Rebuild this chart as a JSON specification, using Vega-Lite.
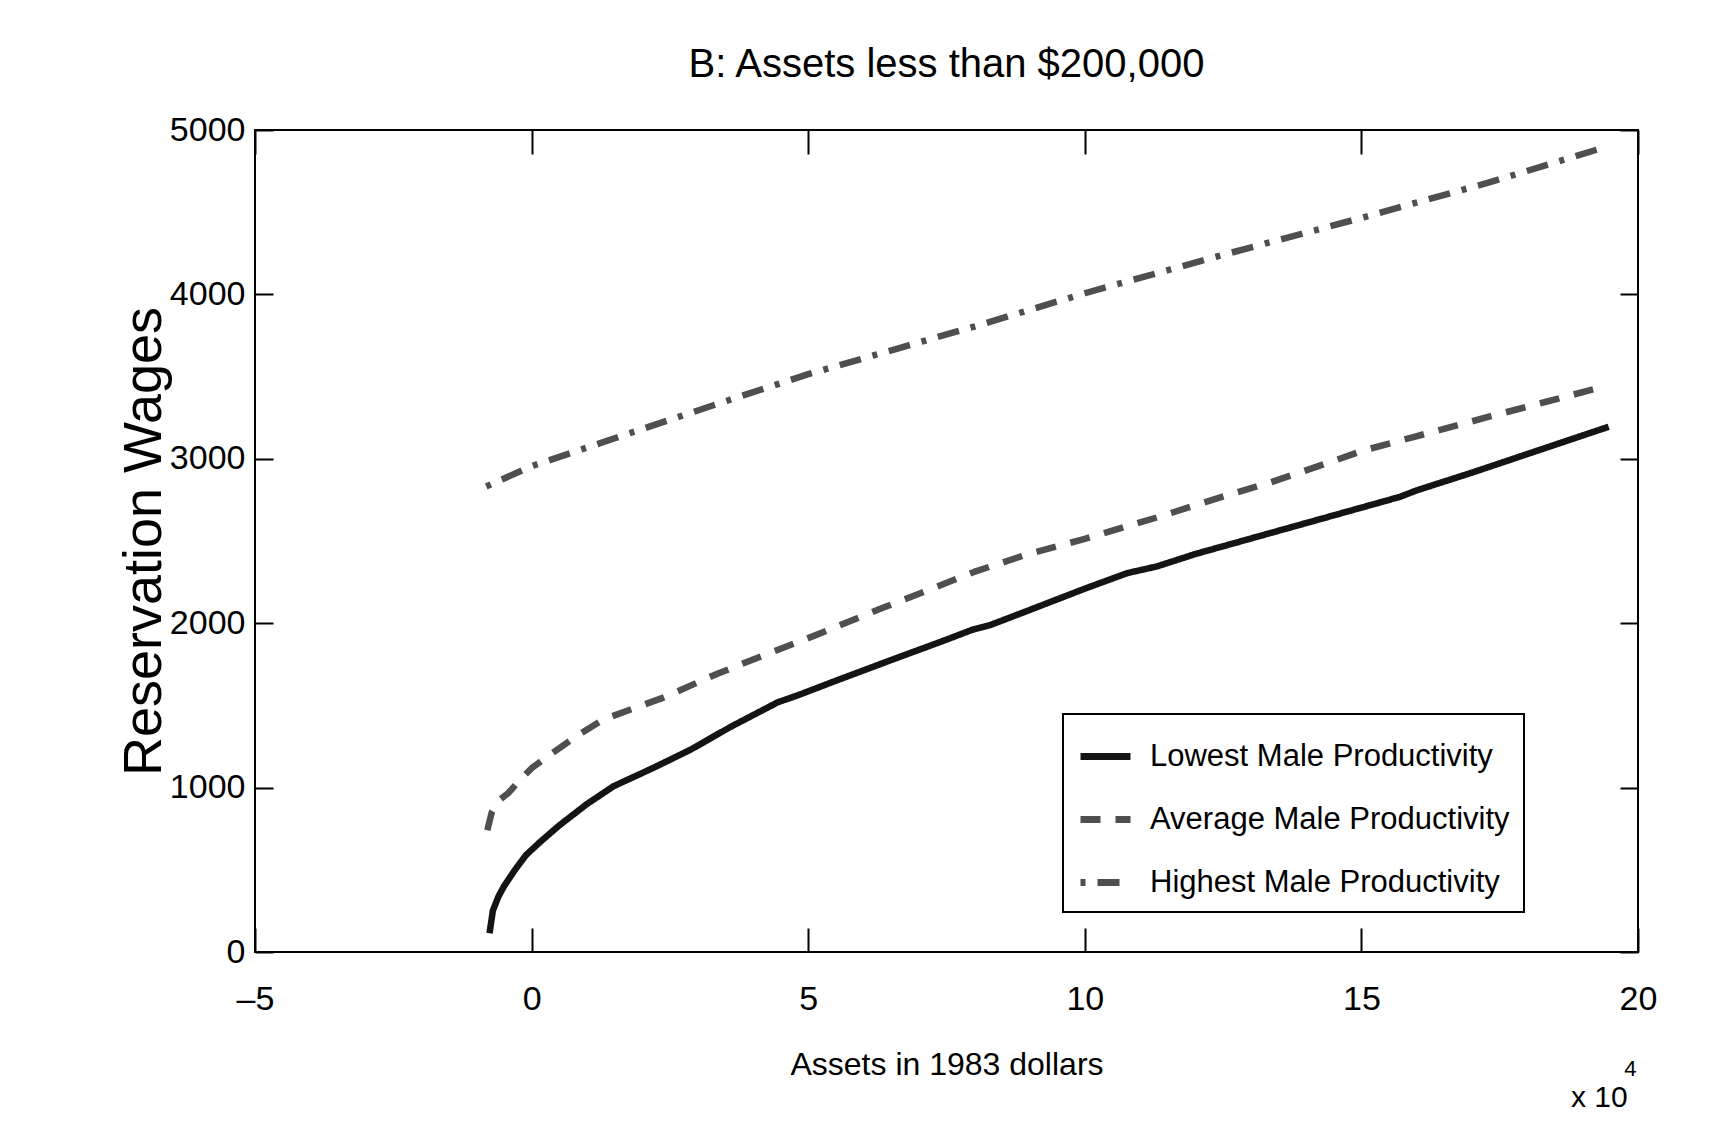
{
  "$schema": "https://vega.github.io/schema/vega-lite/v6.json",
  "width": 1383,
  "height": 822,
  "autosize": "none",
  "padding": {"left": 255, "top": 130, "right": 93, "bottom": 184},
  "background": "white",
  "config": {
    "view": {"stroke": "black", "strokeWidth": 2},
    "font": "Liberation Sans, Arial, sans-serif",
    "legend": {"strokeWidth": 2}
  },
  "title": {
    "text": "B: Assets less than $200,000",
    "fontSize": 40,
    "fontWeight": "normal",
    "font": "Liberation Sans, Arial, sans-serif",
    "color": "black",
    "anchor": "middle",
    "offset": 28
  },
  "datasets": {
    "curves": [
      {"assets": -7600, "wage": 114, "series": "Lowest Male Productivity"},
      {"assets": -7000, "wage": 252, "series": "Lowest Male Productivity"},
      {"assets": -6000, "wage": 337, "series": "Lowest Male Productivity"},
      {"assets": -5000, "wage": 399, "series": "Lowest Male Productivity"},
      {"assets": -4200, "wage": 440, "series": "Lowest Male Productivity"},
      {"assets": -3000, "wage": 500, "series": "Lowest Male Productivity"},
      {"assets": -1000, "wage": 590, "series": "Lowest Male Productivity"},
      {"assets": 1500, "wage": 668, "series": "Lowest Male Productivity"},
      {"assets": 5000, "wage": 770, "series": "Lowest Male Productivity"},
      {"assets": 10000, "wage": 900, "series": "Lowest Male Productivity"},
      {"assets": 14800, "wage": 1008, "series": "Lowest Male Productivity"},
      {"assets": 22000, "wage": 1120, "series": "Lowest Male Productivity"},
      {"assets": 28700, "wage": 1230, "series": "Lowest Male Productivity"},
      {"assets": 36000, "wage": 1370, "series": "Lowest Male Productivity"},
      {"assets": 44500, "wage": 1519, "series": "Lowest Male Productivity"},
      {"assets": 48000, "wage": 1560, "series": "Lowest Male Productivity"},
      {"assets": 55000, "wage": 1650, "series": "Lowest Male Productivity"},
      {"assets": 65000, "wage": 1776, "series": "Lowest Male Productivity"},
      {"assets": 75000, "wage": 1900, "series": "Lowest Male Productivity"},
      {"assets": 79500, "wage": 1958, "series": "Lowest Male Productivity"},
      {"assets": 83000, "wage": 1990, "series": "Lowest Male Productivity"},
      {"assets": 90000, "wage": 2080, "series": "Lowest Male Productivity"},
      {"assets": 100000, "wage": 2210, "series": "Lowest Male Productivity"},
      {"assets": 107700, "wage": 2305, "series": "Lowest Male Productivity"},
      {"assets": 113000, "wage": 2345, "series": "Lowest Male Productivity"},
      {"assets": 120000, "wage": 2421, "series": "Lowest Male Productivity"},
      {"assets": 130000, "wage": 2515, "series": "Lowest Male Productivity"},
      {"assets": 140000, "wage": 2609, "series": "Lowest Male Productivity"},
      {"assets": 150000, "wage": 2703, "series": "Lowest Male Productivity"},
      {"assets": 155000, "wage": 2750, "series": "Lowest Male Productivity"},
      {"assets": 157000, "wage": 2769, "series": "Lowest Male Productivity"},
      {"assets": 160000, "wage": 2808, "series": "Lowest Male Productivity"},
      {"assets": 170000, "wage": 2916, "series": "Lowest Male Productivity"},
      {"assets": 180000, "wage": 3029, "series": "Lowest Male Productivity"},
      {"assets": 194700, "wage": 3195, "series": "Lowest Male Productivity"},

      {"assets": -8000, "wage": 740, "series": "Average Male Productivity"},
      {"assets": -7200, "wage": 850, "series": "Average Male Productivity"},
      {"assets": -6000, "wage": 920, "series": "Average Male Productivity"},
      {"assets": -4200, "wage": 967, "series": "Average Male Productivity"},
      {"assets": -2000, "wage": 1050, "series": "Average Male Productivity"},
      {"assets": 0, "wage": 1118, "series": "Average Male Productivity"},
      {"assets": 4000, "wage": 1216, "series": "Average Male Productivity"},
      {"assets": 8000, "wage": 1310, "series": "Average Male Productivity"},
      {"assets": 13000, "wage": 1415, "series": "Average Male Productivity"},
      {"assets": 23700, "wage": 1546, "series": "Average Male Productivity"},
      {"assets": 33700, "wage": 1694, "series": "Average Male Productivity"},
      {"assets": 43700, "wage": 1828, "series": "Average Male Productivity"},
      {"assets": 50000, "wage": 1909, "series": "Average Male Productivity"},
      {"assets": 63600, "wage": 2095, "series": "Average Male Productivity"},
      {"assets": 72000, "wage": 2205, "series": "Average Male Productivity"},
      {"assets": 80000, "wage": 2312, "series": "Average Male Productivity"},
      {"assets": 89600, "wage": 2419, "series": "Average Male Productivity"},
      {"assets": 100000, "wage": 2513, "series": "Average Male Productivity"},
      {"assets": 113500, "wage": 2648, "series": "Average Male Productivity"},
      {"assets": 123500, "wage": 2755, "series": "Average Male Productivity"},
      {"assets": 133500, "wage": 2856, "series": "Average Male Productivity"},
      {"assets": 143500, "wage": 2970, "series": "Average Male Productivity"},
      {"assets": 150400, "wage": 3051, "series": "Average Male Productivity"},
      {"assets": 159400, "wage": 3132, "series": "Average Male Productivity"},
      {"assets": 173400, "wage": 3259, "series": "Average Male Productivity"},
      {"assets": 183400, "wage": 3347, "series": "Average Male Productivity"},
      {"assets": 194500, "wage": 3445, "series": "Average Male Productivity"},

      {"assets": -8200, "wage": 2832, "series": "Highest Male Productivity"},
      {"assets": 0, "wage": 2955, "series": "Highest Male Productivity"},
      {"assets": 15000, "wage": 3125, "series": "Highest Male Productivity"},
      {"assets": 33700, "wage": 3335, "series": "Highest Male Productivity"},
      {"assets": 50000, "wage": 3515, "series": "Highest Male Productivity"},
      {"assets": 67400, "wage": 3683, "series": "Highest Male Productivity"},
      {"assets": 80000, "wage": 3804, "series": "Highest Male Productivity"},
      {"assets": 100000, "wage": 4007, "series": "Highest Male Productivity"},
      {"assets": 123500, "wage": 4227, "series": "Highest Male Productivity"},
      {"assets": 150400, "wage": 4469, "series": "Highest Male Productivity"},
      {"assets": 173400, "wage": 4684, "series": "Highest Male Productivity"},
      {"assets": 194000, "wage": 4895, "series": "Highest Male Productivity"}
    ]
  },
  "resolve": {"axis": {"x": "independent", "y": "independent"}},
  "layer": [
    {
      "data": {"name": "curves"},
      "mark": {"type": "line", "strokeWidth": 6.5, "strokeJoin": "round"},
      "encoding": {
        "x": {
          "field": "assets",
          "type": "quantitative",
          "scale": {"domain": [-50000, 200000], "nice": false, "zero": false},
          "axis": {
            "orient": "bottom",
            "values": [-50000, 0, 50000, 100000, 150000, 200000],
            "labelExpr": "datum.value < 0 ? '\u2013' + abs(datum.value / 10000) : '' + datum.value / 10000",
            "title": "Assets in 1983 dollars",
            "titleFont": "Liberation Sans, Arial, sans-serif",
            "titleFontSize": 32,
            "titleFontWeight": "normal",
            "titleColor": "black",
            "titlePadding": 33,
            "labelFont": "Liberation Sans, Arial, sans-serif",
            "labelFontSize": 34,
            "labelColor": "black",
            "labelPadding": 54,
            "labelFlush": false,
            "labelOverlap": false,
            "tickSize": -24,
            "tickWidth": 2,
            "tickColor": "black",
            "domain": false,
            "grid": false
          }
        },
        "y": {
          "field": "wage",
          "type": "quantitative",
          "scale": {"domain": [0, 5000], "nice": false},
          "axis": {
            "orient": "left",
            "values": [0, 1000, 2000, 3000, 4000, 5000],
            "format": "d",
            "title": "Reservation Wages",
            "titleFont": "Liberation Sans, Arial, sans-serif",
            "titleFontSize": 54,
            "titleFontWeight": "normal",
            "titleColor": "black",
            "titlePadding": -2,
            "labelFont": "Liberation Sans, Arial, sans-serif",
            "labelFontSize": 34,
            "labelColor": "black",
            "labelPadding": 28,
            "labelOverlap": false,
            "tickSize": -18,
            "tickWidth": 2,
            "tickColor": "black",
            "domain": false,
            "grid": false
          }
        },
        "color": {
          "field": "series",
          "type": "nominal",
          "scale": {
            "domain": ["Lowest Male Productivity", "Average Male Productivity", "Highest Male Productivity"],
            "range": ["#141414", "#4f4f4f", "#4f4f4f"]
          },
          "legend": {
            "orient": "none",
            "legendX": 808,
            "legendY": 584,
            "title": null,
            "symbolType": "stroke",
            "symbolSize": 2500,
            "symbolStrokeWidth": 7,
            "labelFont": "Liberation Sans, Arial, sans-serif",
            "labelFontSize": 31,
            "labelColor": "black",
            "labelLimit": 1000,
            "labelOffset": 16,
            "rowPadding": 19,
            "padding": 14,
            "strokeColor": "black",
            "fillColor": "white"
          }
        },
        "strokeDash": {
          "field": "series",
          "type": "nominal",
          "scale": {
            "domain": ["Lowest Male Productivity", "Average Male Productivity", "Highest Male Productivity"],
            "range": [[1, 0], [20, 15], [5, 12, 22, 12]]
          },
          "legend": {
            "orient": "none",
            "legendX": 808,
            "legendY": 584,
            "title": null,
            "symbolType": "stroke",
            "symbolSize": 2500,
            "symbolStrokeWidth": 7,
            "labelFont": "Liberation Sans, Arial, sans-serif",
            "labelFontSize": 31,
            "labelColor": "black",
            "labelLimit": 1000,
            "labelOffset": 16,
            "rowPadding": 19,
            "padding": 14,
            "strokeColor": "black",
            "fillColor": "white"
          }
        }
      }
    },
    {
      "data": {"values": [{}]},
      "mark": {"type": "text", "font": "Liberation Sans, Arial, sans-serif", "fontSize": 30, "color": "black", "align": "center", "baseline": "middle"},
      "encoding": {
        "x": {
          "datum": 193000,
          "type": "quantitative",
          "axis": {
            "orient": "top",
            "values": [-50000, 0, 50000, 100000, 150000, 200000],
            "labels": false,
            "title": null,
            "tickSize": -24,
            "tickWidth": 2,
            "tickColor": "black",
            "domain": false,
            "grid": false
          }
        },
        "y": {
          "datum": -888,
          "type": "quantitative",
          "axis": {
            "orient": "right",
            "values": [0, 1000, 2000, 3000, 4000, 5000],
            "labels": false,
            "title": null,
            "tickSize": -18,
            "tickWidth": 2,
            "tickColor": "black",
            "domain": false,
            "grid": false
          }
        },
        "text": {"value": "x 10"}
      }
    },
    {
      "data": {"values": [{}]},
      "mark": {"type": "text", "font": "Liberation Sans, Arial, sans-serif", "fontSize": 22, "color": "black", "align": "center", "baseline": "middle"},
      "encoding": {
        "x": {"datum": 198600, "type": "quantitative", "axis": null},
        "y": {"datum": -712, "type": "quantitative", "axis": null},
        "text": {"value": "4"}
      }
    }
  ]
}
